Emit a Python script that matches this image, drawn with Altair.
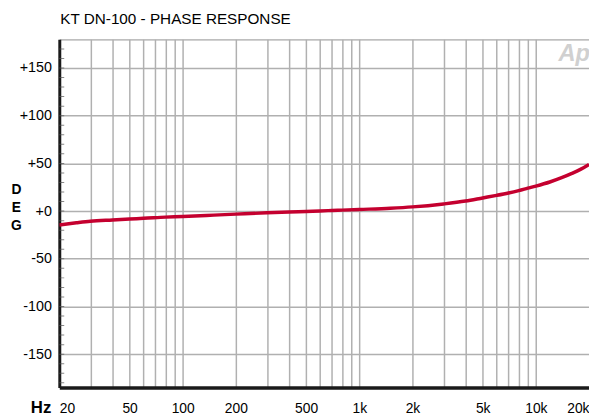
import altair as alt
import pandas as pd

# ---- data ----
freq_hz = [20, 25, 30, 40, 50, 60, 80, 100, 150, 200, 300, 400, 500, 600, 700, 800,
           1000, 1500, 2000, 3000, 4000, 5000, 6000, 7000, 8000, 9000, 10000,
           12000, 14000, 16000, 18000, 20000]
phase_deg = [-14.5, -12.3, -10.7, -9.3, -8.3, -7.6, -6.3, -5.6, -4.2, -3.2, -1.8, -1.0,
             -0.4, 0.2, 0.6, 1.0, 1.7, 3.0, 4.4, 7.5, 10.5, 13.8, 16.5, 19.0, 21.5,
             24.0, 26.2, 30.5, 35.0, 39.5, 44.0, 49.0]

x_axis_values = [20, 30, 40, 50, 60, 70, 80, 90, 100, 200, 300, 400, 500, 600, 700, 800,
                 900, 1000, 2000, 3000, 4000, 5000, 6000, 7000, 8000, 9000, 10000, 20000]
x_label_values = [20, 50, 100, 200, 500, 1000, 2000, 5000, 10000, 20000]
y_axis_values = [-150, -100, -50, 0, 50, 100, 150, 180]
y_minor_ticks = list(range(-180, 180, 10))

FONT = "Liberation Sans"
RED = "#c4002f"
GRID = "#b0b0b0"

curve = pd.DataFrame({"freq": freq_hz, "deg": phase_deg})
ticks = pd.DataFrame({"freq": [20] * len(y_minor_ticks), "deg": y_minor_ticks})
logo = pd.DataFrame({"freq": [16500], "deg": [164.6], "txt": ["Ap"]})

label_list = ",".join(str(v) for v in x_label_values)
x_label_expr = (
    f"indexof([{label_list}], datum.value) >= 0 ? "
    "(datum.value >= 1000 ? (datum.value / 1000) + 'k' : '' + datum.value) : ''"
)
y_label_expr = (
    "datum.value == 180 ? '' : (datum.value > 0 ? '+' + datum.value : "
    "(datum.value == 0 ? '+0' : '-' + abs(datum.value)))"
)

x_scale = alt.Scale(type="log", domain=[20, 20000], nice=False)
y_scale = alt.Scale(domain=[-185, 180], nice=False, zero=False)

x_axis = alt.Axis(
    values=x_axis_values,
    labelExpr=x_label_expr,
    labelFlush=True,
    labelOverlap=False,
    labelFontSize=14,
    labelFont=FONT,
    labelColor="#000",
    labelPadding=14,
    ticks=False,
    domainColor="#1a1a1a",
    domainWidth=3.5,
    gridColor=GRID,
    gridWidth=1.5,
    gridOpacity={"condition": {"test": "datum.value == 20 || datum.value == 20000", "value": 0}, "value": 1},
    title="Hz",
    titleFont=FONT,
    titleFontSize=17,
    titleFontWeight="bold",
    titleColor="#000",
    titleAngle=0,
    titleAlign="center",
    titleBaseline="alphabetic",
    titleX=-19,
    titleY=25,
)

y_axis = alt.Axis(
    values=y_axis_values,
    labelExpr=y_label_expr,
    labelOverlap=False,
    labelFontSize=14.5,
    labelFont=FONT,
    labelColor="#000",
    labelPadding=8,
    ticks=False,
    domainColor="#1a1a1a",
    domainWidth=3,
    gridColor=GRID,
    gridWidth=1.5,
    title=["D", "E", "G"],
    titleFont=FONT,
    titleFontSize=14,
    titleFontWeight="bold",
    titleColor="#000",
    titleAngle=0,
    titleAlign="center",
    titleBaseline="middle",
    titleLineHeight=18,
    titleX=-44,
    titleY=152.5,
)

line = alt.Chart(curve).mark_line(
    color=RED, strokeWidth=3.5, interpolate="monotone", clip=True
)

minor = alt.Chart(ticks).mark_tick(
    orient="horizontal", size=10, thickness=1, color="#555555", clip=True
)

ap = alt.Chart(logo).mark_text(
    font=FONT, fontSize=24, fontWeight="bold", fontStyle="italic",
    color="#d0d0d0", align="center", baseline="middle"
).encode(text="txt:N")

chart = alt.layer(ap, minor, line).encode(
    x=alt.X("freq:Q", scale=x_scale, axis=x_axis),
    y=alt.Y("deg:Q", scale=y_scale, axis=y_axis),
).properties(
    width=537,
    height=353,
    title=alt.TitleParams(
        "KT DN-100 - PHASE RESPONSE",
        anchor="start",
        frame="group",
        font=FONT,
        fontSize=15.5,
        fontWeight="normal",
        color="#000",
        baseline="alphabetic",
        offset=10,
        dx=1,
        dy=18,
    ),
    autosize=alt.AutoSizeParams(type="none"),
    padding={"left": 52, "top": 29, "right": 0, "bottom": 26},
).configure_view(strokeWidth=0).configure(background="#ffffff")

chart.save("out.html", embed_options={"renderer": "svg", "actions": False})
